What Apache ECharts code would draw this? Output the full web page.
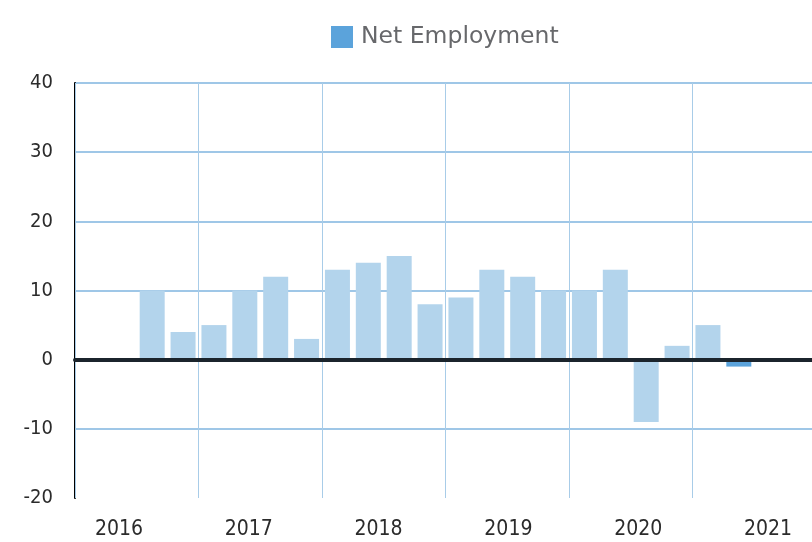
<!DOCTYPE html>
<html>
<head>
<meta charset="utf-8">
<script src="https://cdn.jsdelivr.net/npm/echarts@6/dist/echarts.min.js"></script>
<style>
  html, body { margin: 0; padding: 0; background: #fff; }
  #chart { width: 812px; height: 542px; }
</style>
</head>
<body>
<div id="chart"></div>
<script>
// quarterly net employment, 2016 Q1 .. 2021 Q4
const quarters = [
  '2016 Q1', '2016 Q2', '2016 Q3', '2016 Q4',
  '2017 Q1', '2017 Q2', '2017 Q3', '2017 Q4',
  '2018 Q1', '2018 Q2', '2018 Q3', '2018 Q4',
  '2019 Q1', '2019 Q2', '2019 Q3', '2019 Q4',
  '2020 Q1', '2020 Q2', '2020 Q3', '2020 Q4',
  '2021 Q1', '2021 Q2', '2021 Q3', '2021 Q4'
];
const netEmployment = [
  0, 0, 10, 4,
  5, 10, 12, 3,
  13, 14, 15, 8,
  9, 13, 12, 10,
  10, 13, -9, 2,
  5, -1, 0, 0
];
const yearTicks = [2016, 2017, 2018, 2019, 2020, 2021];
const latestIndex = 21; // most recent quarter drawn darker

const narrowFont = '"DejaVu Sans Condensed", sans-serif';

const chart = echarts.init(document.getElementById('chart'));
chart.setOption({
  animation: false,
  legend: {
    left: 326,
    top: 20,
    itemWidth: 22,
    itemHeight: 22,
    icon: 'rect',
    data: [{ name: 'Net Employment', itemStyle: { color: '#5ba3db' } }],
    textStyle: {
      fontFamily: 'DejaVu Sans',
      fontSize: 23.5,
      color: '#67686b',
      padding: [0, 0, 0, 3]
    }
  },
  grid: {
    left: 75,
    top: 83,
    width: 741,
    height: 415,
    outerBoundsMode: 'none'
  },
  xAxis: [
    {
      type: 'category',
      data: quarters,
      z: 3,
      axisLine: { onZero: true, lineStyle: { color: '#1b242c', width: 4 } },
      axisTick: { show: false },
      axisLabel: { show: false },
      splitLine: {
        show: true,
        interval: 3,
        lineStyle: { color: '#a8cce8', width: 1 }
      }
    },
    {
      type: 'value',
      position: 'bottom',
      min: 2015.661,
      max: 2021.37,
      axisLine: { show: false, onZero: false },
      axisTick: { show: false },
      splitLine: { show: false },
      axisLabel: {
        customValues: yearTicks,
        formatter: v => String(v),
        margin: 21,
        fontFamily: narrowFont,
        fontSize: 21,
        color: '#2b2b2b'
      }
    }
  ],
  yAxis: {
    type: 'value',
    min: -20,
    max: 40,
    interval: 10,
    axisLine: { show: true, onZero: false, lineStyle: { color: '#000', width: 2 } },
    axisTick: { show: false },
    axisLabel: {
      margin: 22,
      fontFamily: narrowFont,
      fontSize: 20,
      color: '#2b2b2b'
    },
    splitLine: {
      lineStyle: {
        color: ['rgba(0,0,0,0)', '#9fc7e7', '#9fc7e7', '#9fc7e7', '#9fc7e7', '#9fc7e7', '#9fc7e7'],
        width: 2
      }
    }
  },
  series: [
    {
      name: 'Net Employment',
      type: 'bar',
      xAxisIndex: 0,
      barWidth: 25,
      data: netEmployment,
      itemStyle: {
        color: p => (p.dataIndex === latestIndex ? '#5ba3db' : '#b3d4ec')
      }
    }
  ]
});
</script>
</body>
</html>
